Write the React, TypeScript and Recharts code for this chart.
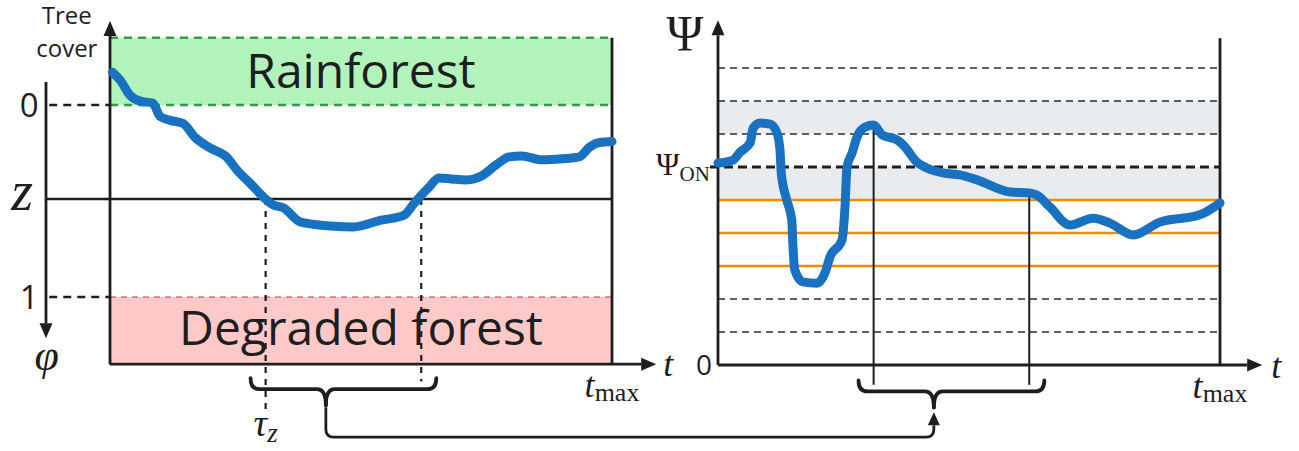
import React from 'react';
import {
  ComposedChart,
  Line,
  XAxis,
  YAxis,
  ReferenceLine,
  ReferenceArea,
  ReferenceDot,
} from 'recharts';

// ---------- data ----------
// left panel: forest state phi(t) (0 = rainforest, 1 = degraded forest)
const coverT = [0.5, 2, 4, 6, 8.5, 10, 12, 14.5, 17, 20, 23, 25.5, 28, 31, 32.5, 34.5, 38, 44, 48.5, 54, 58.5, 60.5, 62, 63.5, 65.5, 68, 71, 74, 77, 79.5, 82, 86, 90, 93.5, 95.5, 97.5, 100];
const coverPhi = [-0.17, -0.13, -0.05, -0.02, -0.01, 0.06, 0.08, 0.095, 0.17, 0.225, 0.265, 0.345, 0.41, 0.49, 0.52, 0.535, 0.61, 0.63, 0.635, 0.6, 0.575, 0.515, 0.47, 0.43, 0.38, 0.385, 0.39, 0.37, 0.31, 0.27, 0.265, 0.285, 0.28, 0.27, 0.22, 0.195, 0.19];

// right panel: Psi(t)
const psiT = [0, 3, 4.4, 6.4, 7, 8.4, 10.4, 11.75, 12.35, 12.6, 13.7, 14.7, 14.9, 15.3, 16.9, 19.7, 21.3, 22.3, 24.7, 25.3, 25.7, 26.7, 27.7, 29.3, 31, 32.7, 35.7, 36.9, 39.6, 41.6, 44.8, 48.2, 51.6, 58.2, 62, 63.5, 66.1, 70.1, 74.7, 78.1, 82.7, 88, 96, 100];
const psiVal = [6.12, 6.21, 6.45, 6.73, 7.18, 7.33, 7.3, 7.03, 6.52, 5.82, 5.0, 4.39, 3.7, 2.88, 2.52, 2.48, 2.79, 3.27, 3.79, 4.79, 6.0, 6.42, 6.91, 7.21, 7.27, 6.97, 6.82, 6.67, 6.15, 5.97, 5.82, 5.76, 5.61, 5.24, 5.21, 5.15, 4.79, 4.24, 4.45, 4.3, 3.94, 4.33, 4.55, 4.91];

const T_MAX = 100;
const Z_LEVEL = 0.49; // threshold z on the phi axis
const TAU = [31, 62]; // times where phi crosses z
const PHI_TICKS = [
  { value: 0, label: '0' },
  { value: 1, label: '1' },
];
const PSI_ON = 6;
const PSI_DASHED = [1, 2, 7, 8, 9];
const PSI_ORANGE = [3, 4, 5];
const PSI_BANDS = [
  [5, 6],
  [7, 8],
];
const BRACE = { from: 28, to: 65, tip: 43 };

const coverData = coverT.map((t, i) => ({ t, phi: coverPhi[i] }));
const psiData = psiT.map((t, i) => ({ t, psi: psiVal[i] }));
const psiAt = (t: number) => psiVal[psiT.indexOf(t)];

// ---------- layout ----------
const W = 1299;
const H = 451;
const PX_PER_T = 5.02;
const LEFT_ORIGIN_X = 110;
const RIGHT_ORIGIN_X = 718;
const PHI_ZERO_Y = 105;
const PX_PER_PHI = 192;
const PSI_ZERO_Y = 365;
const PX_PER_PSI = 33;

const leftTDomain = [-LEFT_ORIGIN_X / PX_PER_T, (W - LEFT_ORIGIN_X) / PX_PER_T];
const phiDomain = [-PHI_ZERO_Y / PX_PER_PHI, (H - PHI_ZERO_Y) / PX_PER_PHI];
const rightTDomain = [-RIGHT_ORIGIN_X / PX_PER_T, (W - RIGHT_ORIGIN_X) / PX_PER_T];
const psiDomain = [-(H - PSI_ZERO_Y) / PX_PER_PSI, PSI_ZERO_Y / PX_PER_PSI];
const PANEL_SHIFT_T = (RIGHT_ORIGIN_X - LEFT_ORIGIN_X) / PX_PER_T;

// panel extents in data units
const PHI_TOP = -0.35;
const PHI_AXIS = 1.35;

// ---------- styles ----------
const INK = '#1e1e1e';
const BLUE = '#1971c2';
const ORANGE = '#f08c00';
const GREEN_FILL = '#b2f2bb';
const GREEN_LINE = '#2f9e44';
const RED_FILL = '#ffc9c9';
const RED_LINE = '#e03131';
const GRAY_FILL = '#e9ecef';
const MATH = '"Liberation Serif", "DejaVu Serif", serif';
const SANS = '"Open Sans", "Noto Sans", sans-serif';

// ---------- shapes ----------
const arrowHead = (x2: number, y2: number, ux: number, uy: number, hl = 15, hw = 6.5) => {
  const bx = x2 - ux * hl;
  const by = y2 - uy * hl;
  return {
    bx,
    by,
    points: `${x2},${y2} ${bx - uy * hw},${by + ux * hw} ${bx + uy * hw},${by - ux * hw}`,
  };
};

const Arrow = (p: any) => {
  const { x1, y1, x2, y2 } = p;
  const len = Math.hypot(x2 - x1, y2 - y1) || 1;
  const ux = (x2 - x1) / len;
  const uy = (y2 - y1) / len;
  const h = arrowHead(x2, y2, ux, uy);
  return (
    <g>
      <line x1={x1} y1={y1} x2={h.bx} y2={h.by} stroke={INK} strokeWidth={2.8} />
      <polygon points={h.points} fill={INK} />
    </g>
  );
};

// half of a curly brace: from the outer end (x1) to the middle tip (x2)
const HalfBrace = (p: any) => {
  const { x1, y1, x2 } = p;
  const s = Math.sign(x2 - x1);
  const r = 9;
  const d = `M ${x1} ${y1 - 11} Q ${x1} ${y1} ${x1 + s * r} ${y1} L ${x2 - s * r} ${y1} Q ${x2} ${y1} ${x2} ${y1 + 16}`;
  return <path d={d} fill="none" stroke={INK} strokeWidth={3.8} strokeLinecap="round" />;
};

// elbow connector running under both panels, ending with an upward arrow
const Connector = (p: any) => {
  const { x1, y1, x2 } = p;
  const r = 8;
  const tip = y1 - 25;
  const h = arrowHead(x2, tip, 0, -1, 13, 6);
  const d = `M ${x1} ${y1 - 30} L ${x1} ${y1 - r} Q ${x1} ${y1} ${x1 + r} ${y1} L ${x2 - r} ${y1} Q ${x2} ${y1} ${x2} ${y1 - r} L ${x2} ${h.by}`;
  return (
    <g>
      <path d={d} fill="none" stroke={INK} strokeWidth={2.8} />
      <polygon points={h.points} fill={INK} />
    </g>
  );
};

const textAt =
  (render: (x: number, y: number) => React.ReactNode) =>
  (p: any) =>
    <g>{render(p.cx, p.cy)}</g>;

export default function App() {
  const L = { xAxisId: 'L', yAxisId: 'L' } as const;
  const R = { xAxisId: 'R', yAxisId: 'R' } as const;

  return (
    <div style={{ position: 'absolute', left: 0, top: 0, width: W, height: H, background: '#fff' }}>
      <ComposedChart width={W} height={H} margin={{ top: 0, right: 0, bottom: 0, left: 0 }}>
        <XAxis xAxisId="L" dataKey="t" type="number" domain={leftTDomain} allowDataOverflow hide />
        <YAxis yAxisId="L" type="number" domain={phiDomain} reversed allowDataOverflow hide />
        <XAxis xAxisId="R" dataKey="t" type="number" domain={rightTDomain} allowDataOverflow hide />
        <YAxis yAxisId="R" type="number" domain={psiDomain} allowDataOverflow hide />

        {/* ===== left panel ===== */}
        <ReferenceArea {...L} x1={0} x2={T_MAX} y1={PHI_TOP} y2={0} fill={GREEN_FILL} fillOpacity={1} stroke="none" />
        <ReferenceArea
          {...L}
          x1={0}
          x2={T_MAX}
          y1={1}
          y2={PHI_AXIS}
          fill={RED_FILL}
          fillOpacity={1}
          stroke={RED_LINE}
          strokeWidth={1.2}
          strokeDasharray="6 5"
        />
        {[PHI_TOP, 0].map((v) => (
          <ReferenceLine
            key={`g${v}`}
            {...L}
            segment={[{ x: 0, y: v }, { x: T_MAX, y: v }]}
            stroke={GREEN_LINE}
            strokeWidth={2.5}
            strokeDasharray="8 6"
          />
        ))}
        {PHI_TICKS.map((tk) => (
          <ReferenceLine
            key={`tick${tk.value}`}
            {...L}
            segment={[{ x: -12.1, y: tk.value }, { x: 0, y: tk.value }]}
            stroke={INK}
            strokeWidth={2.5}
            strokeDasharray="8 6"
          />
        ))}
        <ReferenceLine {...L} segment={[{ x: -12.75, y: Z_LEVEL }, { x: T_MAX, y: Z_LEVEL }]} stroke={INK} strokeWidth={2.5} />
        <ReferenceLine {...L} segment={[{ x: TAU[0], y: Z_LEVEL }, { x: TAU[0], y: 1.6 }]} stroke={INK} strokeWidth={2.2} strokeDasharray="6 6" />
        <ReferenceLine {...L} segment={[{ x: TAU[1], y: Z_LEVEL }, { x: TAU[1], y: 1.44 }]} stroke={INK} strokeWidth={2.2} strokeDasharray="6 6" />
        <ReferenceLine {...L} segment={[{ x: T_MAX, y: PHI_TOP }, { x: T_MAX, y: PHI_AXIS }]} stroke={INK} strokeWidth={2.8} />
        <ReferenceLine {...L} segment={[{ x: 0, y: PHI_AXIS }, { x: 0, y: -0.437 }]} shape={Arrow} />
        <ReferenceLine {...L} segment={[{ x: 0, y: PHI_AXIS }, { x: 108.8, y: PHI_AXIS }]} shape={Arrow} />
        <ReferenceLine {...L} segment={[{ x: -12.75, y: -0.12 }, { x: -12.75, y: 1.215 }]} shape={Arrow} />

        <Line
          {...L}
          data={coverData}
          dataKey="phi"
          type="monotone"
          stroke={BLUE}
          strokeWidth={9}
          strokeLinecap="round"
          strokeLinejoin="round"
          dot={false}
          activeDot={false}
          isAnimationActive={false}
        />

        {/* brace over [tau_z, second crossing] and the connector to the right panel */}
        <ReferenceLine {...L} segment={[{ x: BRACE.from, y: 1.48 }, { x: BRACE.tip, y: 1.48 }]} shape={HalfBrace} />
        <ReferenceLine {...L} segment={[{ x: BRACE.to, y: 1.48 }, { x: BRACE.tip, y: 1.48 }]} shape={HalfBrace} />
        <ReferenceLine
          {...L}
          segment={[{ x: BRACE.tip, y: 1.73 }, { x: BRACE.tip + PANEL_SHIFT_T, y: 1.73 }]}
          shape={Connector}
        />

        {/* left panel labels */}
        <ReferenceDot
          {...L}
          x={-8.6}
          y={-0.422}
          shape={textAt((x, y) => (
            <text x={x} y={y} textAnchor="middle" fontFamily={SANS} fontSize={24} fill={INK}>
              Tree
            </text>
          ))}
        />
        <ReferenceDot
          {...L}
          x={-8.6}
          y={-0.248}
          shape={textAt((x, y) => (
            <text x={x} y={y} textAnchor="middle" fontFamily={SANS} fontSize={24} fill={INK}>
              cover
            </text>
          ))}
        />
        {PHI_TICKS.map((tk) => (
          <ReferenceDot
            key={`tl${tk.value}`}
            {...L}
            x={-16.1}
            y={tk.value}
            shape={textAt((x, y) => (
              <text x={x} y={y + 12} textAnchor="middle" fontFamily={SANS} fontSize={33} fill={INK}>
                {tk.label}
              </text>
            ))}
          />
        ))}
        <ReferenceDot
          {...L}
          x={-17.5}
          y={Z_LEVEL}
          shape={textAt((x, y) => (
            <text x={x} y={y + 11} textAnchor="middle" fontFamily={MATH} fontStyle="italic" fontSize={56} fill={INK}>
              z
            </text>
          ))}
        />
        <ReferenceDot
          {...L}
          x={-12.6}
          y={1.38}
          shape={textAt((x, y) => (
            <text x={x} y={y} textAnchor="middle" fontFamily={MATH} fontStyle="italic" fontSize={44} fill={INK}>
              φ
            </text>
          ))}
        />
        <ReferenceDot
          {...L}
          x={50}
          y={-0.0885}
          shape={textAt((x, y) => (
            <text x={x} y={y} textAnchor="middle" fontFamily={SANS} fontSize={48} fill={INK}>
              Rainforest
            </text>
          ))}
        />
        <ReferenceDot
          {...L}
          x={50}
          y={1.25}
          shape={textAt((x, y) => (
            <text x={x} y={y} textAnchor="middle" fontFamily={SANS} fontSize={48} fill={INK}>
              Degraded forest
            </text>
          ))}
        />
        <ReferenceDot
          {...L}
          x={110.2}
          y={PHI_AXIS}
          shape={textAt((x, y) => (
            <text x={x} y={y + 12} fontFamily={MATH} fontStyle="italic" fontSize={36} fill={INK}>
              t
            </text>
          ))}
        />
        <ReferenceDot
          {...L}
          x={T_MAX}
          y={PHI_AXIS}
          shape={textAt((x, y) => (
            <text x={x} y={y + 33} textAnchor="middle" fontFamily={MATH} fill={INK}>
              <tspan fontStyle="italic" fontSize={36}>t</tspan>
              <tspan fontSize={26} dy={4}>max</tspan>
            </text>
          ))}
        />
        <ReferenceDot
          {...L}
          x={TAU[0]}
          y={PHI_AXIS}
          shape={textAt((x, y) => (
            <text x={x} y={y + 72} textAnchor="middle" fontFamily={MATH} fontStyle="italic" fill={INK}>
              <tspan fontSize={38}>τ</tspan>
              <tspan fontSize={27} dy={6}>z</tspan>
            </text>
          ))}
        />

        {/* ===== right panel ===== */}
        {PSI_BANDS.map(([a, b]) => (
          <ReferenceArea key={`band${a}`} {...R} x1={0} x2={T_MAX} y1={a} y2={b} fill={GRAY_FILL} fillOpacity={1} stroke="none" />
        ))}
        {PSI_DASHED.map((v) => (
          <ReferenceLine
            key={`d${v}`}
            {...R}
            segment={[{ x: 0, y: v }, { x: T_MAX, y: v }]}
            stroke="#2b2b2b"
            strokeWidth={1.6}
            strokeDasharray="7 5"
          />
        ))}
        <ReferenceLine {...R} segment={[{ x: -1.6, y: PSI_ON }, { x: T_MAX, y: PSI_ON }]} stroke={INK} strokeWidth={3} strokeDasharray="9 5" />
        {PSI_ORANGE.map((v) => (
          <ReferenceLine key={`o${v}`} {...R} segment={[{ x: 0, y: v }, { x: T_MAX, y: v }]} stroke={ORANGE} strokeWidth={2.5} />
        ))}
        <ReferenceLine {...R} segment={[{ x: T_MAX, y: 0 }, { x: T_MAX, y: 9.9 }]} stroke={INK} strokeWidth={2.8} />
        <ReferenceLine {...R} segment={[{ x: 0, y: 0 }, { x: 0, y: 10.45 }]} shape={Arrow} />
        <ReferenceLine {...R} segment={[{ x: 0, y: 0 }, { x: 108.4, y: 0 }]} shape={Arrow} />
        {TAU.map((tau) => (
          <ReferenceLine key={`tau${tau}`} {...R} segment={[{ x: tau, y: psiAt(tau) }, { x: tau, y: -0.6 }]} stroke={INK} strokeWidth={2} />
        ))}

        <Line
          {...R}
          data={psiData}
          dataKey="psi"
          type="monotone"
          stroke={BLUE}
          strokeWidth={9}
          strokeLinecap="round"
          strokeLinejoin="round"
          dot={false}
          activeDot={false}
          isAnimationActive={false}
        />

        <ReferenceLine {...R} segment={[{ x: BRACE.from, y: -0.8 }, { x: BRACE.tip, y: -0.8 }]} shape={HalfBrace} />
        <ReferenceLine {...R} segment={[{ x: BRACE.to, y: -0.8 }, { x: BRACE.tip, y: -0.8 }]} shape={HalfBrace} />

        {/* right panel labels */}
        <ReferenceDot
          {...R}
          x={-6.6}
          y={9.55}
          shape={textAt((x, y) => (
            <text x={x} y={y} textAnchor="middle" fontFamily={MATH} fontSize={50} fill={INK}>
              Ψ
            </text>
          ))}
        />
        <ReferenceDot
          {...R}
          x={-1.6}
          y={PSI_ON}
          shape={textAt((x, y) => (
            <text x={x} y={y + 8} textAnchor="end" fontFamily={MATH} fill={INK}>
              <tspan fontSize={32}>Ψ</tspan>
              <tspan fontSize={21} dy={6}>ON</tspan>
            </text>
          ))}
        />
        <ReferenceDot
          {...R}
          x={-1.2}
          y={0}
          shape={textAt((x, y) => (
            <text x={x} y={y + 10} textAnchor="end" fontFamily={SANS} fontSize={28} fill={INK}>
              0
            </text>
          ))}
        />
        <ReferenceDot
          {...R}
          x={110.2}
          y={0}
          shape={textAt((x, y) => (
            <text x={x} y={y + 13} fontFamily={MATH} fontStyle="italic" fontSize={36} fill={INK}>
              t
            </text>
          ))}
        />
        <ReferenceDot
          {...R}
          x={T_MAX}
          y={0}
          shape={textAt((x, y) => (
            <text x={x} y={y + 33} textAnchor="middle" fontFamily={MATH} fill={INK}>
              <tspan fontStyle="italic" fontSize={36}>t</tspan>
              <tspan fontSize={26} dy={4}>max</tspan>
            </text>
          ))}
        />
      </ComposedChart>
    </div>
  );
}
